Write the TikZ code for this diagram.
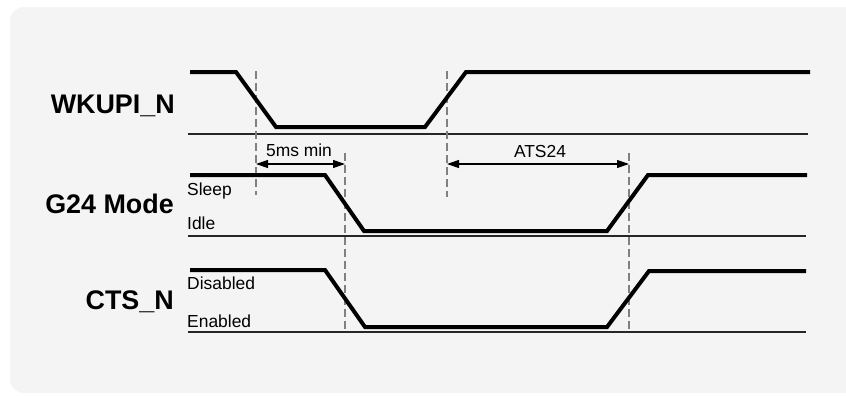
\documentclass[tikz,border=0pt]{standalone}
\usepackage{fontspec}
\setmainfont{Liberation Sans}
\usetikzlibrary{arrows.meta}
\begin{document}
\begin{tikzpicture}[x=1bp,y=-1bp,
  sig/.style={line width=4bp,line join=miter,black},
  base/.style={line width=1.3bp,black!85},
  guide/.style={line width=1.2bp,black!50,dash pattern=on 8bp off 4bp},
  dim/.style={line width=1.1bp,{Triangle[length=12bp,width=8bp]}-{Triangle[length=12bp,width=8bp]}},
  biglabel/.style={font=\fontsize{27}{30}\selectfont\bfseries,anchor=base east,inner sep=0pt},
  lvl/.style={font=\fontsize{17.5}{20}\selectfont,anchor=base west,inner sep=0pt},
  dimtext/.style={font=\fontsize{17.5}{20}\selectfont,anchor=base,inner sep=0pt}]
\useasboundingbox (0,0) rectangle (846,395);
\fill[rounded corners=14bp,fill={rgb,255:red,244;green,244;blue,244}] (10,7) rectangle (870,393);

% labels
\node[biglabel] (wk) at (175,113) {WKUPI\_N};
\node[biglabel] (g24) at (174,213) {G24 Mode};
\node[biglabel] (cts) at (174,309) {CTS\_N};
\node[lvl] (sleep) at (187,195) {Sleep};
\node[lvl] (idle) at (187,229) {Idle};
\node[lvl] (dis) at (187,289) {Disabled};
\node[lvl] (en) at (187,327) {Enabled};

% baselines
\draw[base] (188,134) -- (808,134);
\draw[base] (188,236) -- (806,236);
\draw[base] (188,332) -- (806,332);

% guide lines
\coordinate (g1t) at (256,71);  \coordinate (g1b) at (256,195);
\coordinate (g2t) at (447,71);  \coordinate (g2b) at (447,197);
\coordinate (g3t) at (345,153); \coordinate (g3b) at (345,332);
\coordinate (g4t) at (629,153); \coordinate (g4b) at (629,332);
\draw[guide] (g1t) -- (g1b);
\draw[guide] (g2t) -- (g2b);
\draw[guide] (g3t) -- (g3b);
\draw[guide] (g4t) -- (g4b);

% signals
\draw[sig] (190,72) -- (236,72) -- (276,127) -- (425,127) -- (466,72) -- (810,72);
\draw[sig] (190,175) -- (325,175) -- (364,231) -- (607,231) -- (648,175) -- (807,175);
\draw[sig] (190,270) -- (325,270) -- (365,327) -- (607,327) -- (649,271) -- (806,271);

% dimensions
\coordinate (a1) at (256,164); \coordinate (a2) at (345,164);
\coordinate (b1) at (447,164); \coordinate (b2) at (629,164);
\draw[dim] (a1) -- (a2);
\draw[dim] (b1) -- (b2);
\node[dimtext] (t5) at (299,156) {5ms min};
\node[dimtext] (tats) at (540,157) {ATS24};
\end{tikzpicture}
\end{document}
